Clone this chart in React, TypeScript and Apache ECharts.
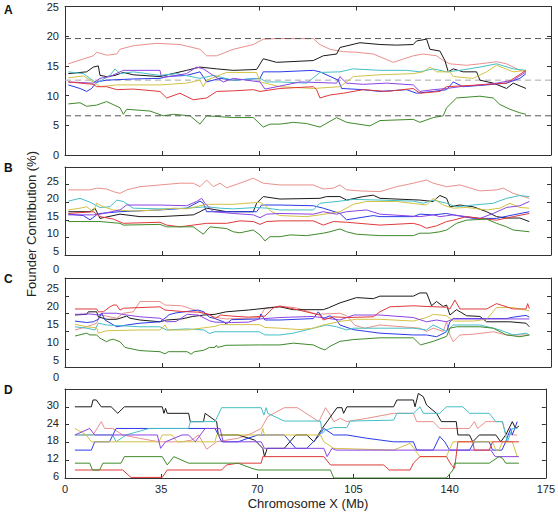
import React, { useEffect, useRef } from "react";
import * as echarts from "echarts";

// ---------- Data (x = Mb, y = founder contribution %) ----------
const LINE_NAMES = ["pink", "black", "blue", "cyan", "yellow", "purple", "red", "green"];
const LINE_COLORS = ["#e8908c", "#1a1a1a", "#2a3be8", "#44bfc6", "#d2c244", "#8c44e4", "#e0393a", "#3f8a2a"];

const X_MIN = 0;
const X_MAX = 175;
const X_STEP = 35;

// Panel A
const A_PINK = [[1.2,15.35],[10.2,16.7],[11.4,17.3],[15,16.8],[18.6,17.0],[19.8,17.8],[24.6,18.4],[33,18.8],[41.4,18.6],[48.6,17.8],[51,16.7],[54.6,16.7],[60.6,17.8],[67.8,18.6],[71.4,19.5],[76.2,19.6],[89.4,19.6],[91.8,18.6],[95.4,17.8],[100.2,17.4],[105,17.3],[111,17.0],[118.2,15.6],[125.4,16.7],[129,17.0],[133.8,16.7],[136.2,15.9],[138.6,15.35],[144.6,15.1],[149.4,15.35],[155.4,15.7],[159,15.35],[163.8,14.25],[166,14.0]];
const A_BLACK = [[1.2,13.7],[7.8,14.0],[10.2,14.8],[12,15.0],[12.6,13.4],[15,13.2],[18,13.4],[21,13.9],[24.6,13.5],[34.2,13.2],[43.8,14.25],[48.6,14.8],[54.6,14.5],[60.6,14.25],[69,14.4],[71.4,16.2],[76.2,15.6],[89.4,15.9],[93,16.7],[97.8,17.0],[99,18.1],[106.2,18.9],[113.4,18.6],[119.4,18.5],[125.4,18.6],[126.6,19.2],[130.2,19.5],[131.4,17.8],[135,17.5],[136.8,15.9],[138,14.0],[139.8,14.5],[143.4,14.0],[148.2,14.0],[149.4,12.6],[154.2,12.1],[159,11.2],[161.4,12.1],[166,11.2]];
const A_BLUE = [[1.2,11.8],[5.4,11.2],[7.8,10.7],[9.6,11.2],[11.4,12.3],[15,12.6],[24.6,12.8],[34.2,12.9],[36.6,13.2],[43.8,13.4],[48.6,14.0],[51,12.3],[55.8,12.9],[60.6,12.6],[70.2,12.9],[71.4,14.0],[77.4,14.0],[89.4,14.25],[91.8,14.0],[98.4,12.6],[99.6,11.2],[107.4,11.0],[113.4,10.7],[123,11.0],[126.6,10.4],[132.6,10.7],[137.4,11.0],[139.8,12.3],[143.4,11.5],[151.8,11.8],[159,12.1],[163.8,12.9],[166,13.7]];
const A_CYAN = [[1.2,14.0],[6.6,13.7],[11.4,12.1],[16.2,13.4],[18,14.5],[19.8,13.7],[24.6,14.0],[34.2,13.4],[40.2,13.7],[48.6,12.9],[53.4,13.4],[60.6,12.6],[70.2,12.9],[72.6,12.3],[77.4,12.3],[87,12.1],[91.8,13.9],[99,14.0],[103.8,14.5],[113.4,14.25],[123,14.25],[127.8,14.0],[132.6,14.5],[137.4,14.0],[142.2,14.25],[149.4,14.8],[155.4,15.35],[161.4,14.5],[166,14.25]];
const A_YELLOW = [[1.2,13.0],[6.6,13.3],[10.2,12.3],[12.6,11.5],[18.6,11.8],[34.2,11.8],[43.8,12.1],[48.6,12.6],[49.8,11.5],[51,12.6],[58.2,13.9],[69,13.9],[70.2,12.3],[77.4,11.5],[89.4,11.2],[99,11.5],[101.4,12.3],[103.8,13.2],[113.4,13.5],[125.4,13.7],[129,14.0],[131.4,14.8],[133.8,14.0],[138.6,14.0],[139.8,13.2],[147,12.9],[151.8,14.0],[155.4,15.1],[161.4,14.0],[166,14.25]];
const A_PURPLE = [[1.2,12.3],[10.2,12.1],[12.6,12.9],[16.2,13.2],[21,14.25],[34.2,14.25],[34.8,13.0],[43.8,13.7],[47.4,14.8],[49.8,14.5],[53.4,13.4],[57,12.3],[60.6,12.9],[70.2,12.3],[72,11.1],[77.4,11.6],[84.6,12.3],[97.8,12.1],[99,13.2],[101.4,12.1],[107.4,11.9],[115.8,12.1],[125.4,11.8],[127.8,10.7],[132.6,11.0],[137.4,11.2],[142.2,11.5],[149.4,11.8],[155.4,12.1],[161.4,12.6],[166,14.0]];
const A_RED = [[1.2,12.3],[10.2,11.9],[11.4,11.5],[15,11.5],[18.6,11.0],[24.6,11.1],[34.2,10.7],[36.6,9.6],[41.4,10.4],[46.2,9.3],[51,9.6],[54.6,10.7],[60.6,10.8],[67.8,11.0],[70.2,10.7],[77.4,11.2],[89.4,11.5],[90.6,11.0],[91.8,9.6],[95.4,10.1],[100.2,10.4],[107.4,11.0],[115.8,10.7],[125.4,11.2],[127.8,10.4],[135,10.7],[137.4,11.5],[149.4,11.8],[159,12.1],[166,14.25]];
const A_GREEN = [[1.2,8.6],[5.4,8.8],[7.8,8.2],[11.4,8.4],[15,9.0],[19.8,7.95],[21,6.85],[22.2,7.7],[30.6,7.4],[35.4,6.6],[39,6.85],[45,6.6],[48.6,5.2],[51,6.6],[60.6,6.3],[67.8,6.3],[71.4,4.7],[73.8,5.2],[77.4,5.2],[82.2,5.5],[87,5.3],[91.8,4.7],[97.8,6.3],[101.4,5.5],[109.8,4.9],[113.4,5.8],[125.4,6.0],[127.8,5.5],[132.6,6.3],[136.2,6.6],[137.4,7.95],[141,9.6],[149.4,9.9],[154.2,9.6],[156.6,8.5],[160.2,7.7],[163.8,7.1],[166,6.85]];
const A_THRESHOLDS = [19.6, 12.6, 6.6];

// Panel B
const B_PINK = [[1.2,23.5],[9,23.5],[11.4,24.0],[15,23.75],[17.4,23.0],[19.8,22.5],[22.2,23.5],[27,24.4],[34.2,24.9],[41.4,25.4],[46.2,25.4],[48.6,24.4],[51,26.3],[53.4,24.4],[55.8,25.4],[58.2,24.1],[63,25.4],[67.8,26.8],[71.4,25.4],[77.4,24.9],[89.4,24.9],[93,23.75],[96.6,24.0],[99,24.9],[101.4,23.5],[106.2,23.2],[113.4,23.0],[119.4,24.4],[125.4,25.4],[130.2,26.3],[132.6,25.4],[137.4,24.4],[142.2,24.9],[149.4,23.2],[155.4,23.5],[157.8,24.0],[161.4,22.5],[167.2,21.1]];
const B_BLACK = [[1.2,17.3],[9,17.3],[10.8,18.3],[12.6,15.4],[19.8,16.6],[27,15.9],[34.2,15.9],[41.4,16.2],[46.2,16.4],[48.6,17.3],[51,18.3],[58.2,17.3],[67.8,17.3],[69,19.7],[71.4,21.6],[77.4,20.9],[91.8,21.1],[94.2,21.6],[99,21.6],[101.4,20.6],[107.4,21.6],[111,22.0],[113.4,21.1],[127.8,20.6],[132.6,20.2],[133.8,21.1],[135,21.9],[137.4,21.1],[138.6,18.7],[142.2,19.2],[147,18.7],[151.8,17.3],[155.4,15.9],[159,15.5],[163.8,15.5],[167.2,14.5]];
const B_BLUE = [[1.2,16.6],[6.6,16.2],[9,15.0],[11.4,16.4],[12.6,16.8],[19.8,17.3],[34.2,17.8],[43.8,18.3],[48.6,20.3],[49.8,19.7],[51,17.3],[60.6,17.3],[69,17.3],[70.8,19.2],[77.4,19.2],[89.4,19.0],[93,18.3],[99,16.8],[101.4,15.0],[111,16.2],[113.4,15.9],[125.4,15.9],[127.8,16.6],[132.6,16.4],[137.4,16.8],[139.8,16.4],[147,15.4],[155.4,15.4],[161.4,16.4],[167.2,17.3]];
const B_CYAN = [[1.2,20.3],[5.4,21.1],[9,20.0],[12.6,18.5],[16.2,18.7],[18.6,20.6],[21,20.2],[24.6,18.3],[34.2,18.1],[43.8,18.3],[51,18.7],[55.8,18.3],[60.6,18.1],[69,18.5],[72.6,18.3],[77.4,17.8],[89.4,17.8],[91.8,19.7],[99,20.3],[103.8,20.8],[113.4,20.6],[125.4,20.3],[129,19.7],[132.6,20.6],[137.4,19.7],[141,18.7],[147,19.2],[154.2,19.7],[159,21.1],[163.8,21.9],[167.2,21.6]];
const B_YELLOW = [[1.2,17.8],[5.4,18.3],[7.8,18.7],[10.2,17.3],[11.4,19.7],[13.8,18.7],[17.4,17.8],[24.6,17.5],[34.2,17.8],[39,18.3],[43.8,18.1],[51,19.4],[60.6,19.4],[70.2,20.0],[72.6,18.7],[74,17.5],[77.4,16.2],[87,15.9],[91.8,16.4],[99,17.3],[103.8,19.4],[108.6,20.2],[119.4,20.2],[127.8,19.4],[130.2,19.2],[132.6,21.1],[136.2,19.2],[139.8,18.3],[144.6,18.5],[151.8,17.8],[156.6,18.3],[160.2,19.7],[163.8,18.5],[167.2,18.3]];
const B_PURPLE = [[1.2,16.4],[10.2,16.4],[12.6,16.6],[19.8,17.8],[22.2,19.2],[34.2,19.2],[43.8,19.0],[47.4,20.2],[49.2,21.1],[50.4,19.7],[53.4,17.3],[60.6,16.8],[67.8,16.4],[70.2,15.6],[72.6,16.6],[77.4,16.8],[89.4,16.6],[93,17.3],[97.8,16.6],[101.4,17.3],[108.6,17.8],[113.4,16.6],[127.8,15.9],[132.6,16.4],[135,15.9],[139.8,16.4],[149.4,15.4],[154.2,16.8],[159,18.5],[163.8,19.0],[167.2,20.2]];
const B_RED = [[1.2,16.8],[10.2,17.3],[12.6,15.9],[17.4,15.2],[21,14.0],[34.2,14.3],[36.6,13.5],[41.4,13.0],[46.2,13.5],[51,14.0],[58.2,14.0],[63,14.7],[67.8,14.5],[70.2,13.7],[72.6,14.5],[77.4,14.7],[89.4,14.7],[93,13.5],[96.6,14.5],[101.4,14.3],[113.4,13.5],[125.4,14.0],[127.8,13.5],[130.2,12.6],[133.8,13.3],[137.4,14.5],[139.8,14.9],[144.6,15.9],[149.4,15.4],[155.4,14.9],[161.4,15.9],[167.2,16.8]];
const B_GREEN = [[1.2,14.5],[12.6,14.5],[19.8,14.0],[21,13.5],[34.2,13.7],[36.6,13.0],[46.2,13.0],[48.6,11.6],[49.8,10.9],[52.2,13.0],[58.2,12.5],[60.6,11.6],[63,11.3],[67.8,12.1],[70.2,10.7],[72,9.0],[73.8,10.2],[77.4,10.2],[81,10.7],[87,10.5],[93,11.2],[95.4,11.6],[99,12.4],[101.4,11.6],[105,10.9],[113.4,10.5],[125.4,10.5],[127.8,11.2],[131.4,11.2],[135,11.6],[137.4,12.1],[141,14.0],[144.6,14.9],[151.8,15.2],[155.4,14.0],[159,13.0],[161.4,12.1],[167.2,11.6]];

// Panel C
const C_PINK = [[3.6,15.4],[7.8,16.3],[11.4,17.3],[12.6,19.6],[15,19.3],[18.6,18.7],[21,20.1],[24.6,20.5],[27,23.4],[34.2,23.4],[36,22.4],[42,22.2],[46,21.2],[50,20.2],[54,19.0],[58,18.5],[66,18.7],[70,18.9],[72,21.5],[77.4,22.1],[83.4,21.6],[90.6,19.8],[99,20.1],[101.4,19.4],[104.4,16.7],[108,15.9],[113.4,16.8],[127.8,15.9],[130.2,15.0],[132.6,15.9],[136.2,15.0],[137.4,17.7],[138.6,14.0],[139.8,12.1],[142.2,14.0],[147,14.2],[154.2,14.9],[159,14.0],[167.2,14.0]];
const C_BLACK = [[3.6,19.6],[7.8,19.8],[8.4,20.5],[11.4,20.5],[12,19.1],[15,18.4],[18.6,18.4],[22.2,19.3],[23.4,18.7],[27,18.2],[34.2,17.7],[36.6,18.2],[42,18.5],[46,19.2],[50,19.6],[54,19.8],[58,20.5],[66,21.0],[72,21.5],[77.4,21.9],[82.2,21.1],[93,21.1],[94.8,21.6],[99,23.0],[105,24.5],[111,24.2],[113.4,24.9],[125.4,24.9],[127.8,25.8],[130.2,25.8],[132,22.2],[133.8,23.4],[136.2,22.0],[137.4,22.4],[138.6,19.6],[141,21.1],[144.6,19.4],[149.4,19.2],[151.8,17.7],[160.2,17.7],[166,17.3],[167.2,16.3]];
const C_BLUE = [[3.6,17.9],[7.8,17.5],[10.2,17.7],[12,18.4],[13.2,20.1],[14.4,18.2],[18.6,16.3],[22.2,16.8],[27,17.3],[34.2,17.7],[36,18.7],[37.5,19.7],[40,20.2],[45,20.7],[48,21.0],[50,20.5],[52,19.0],[54,18.6],[57.4,17.6],[58,17.0],[60,18.3],[70,18.5],[70.5,19.9],[72,18.2],[77.4,18.2],[89.4,18.6],[91.2,20.5],[93,18.6],[95.4,19.4],[97.8,18.2],[99,16.8],[103.8,15.5],[108.6,15.0],[113.4,14.5],[125.4,14.0],[130.2,14.0],[133.8,13.5],[137.4,14.9],[138.6,17.7],[139.8,18.6],[151.8,18.6],[159,18.6],[161.4,19.0],[166,19.5],[167.2,19.0]];
const C_CYAN = [[3.6,16.3],[7.8,15.9],[10.8,15.4],[12,17.3],[15,16.8],[27,16.3],[34.2,16.3],[36.6,15.4],[44,15.7],[50,15.4],[52,14.4],[54,14.9],[70,14.9],[72,14.0],[77.4,14.0],[82.2,14.5],[89.4,15.9],[94.2,16.8],[97.8,16.3],[101.4,15.4],[103.8,15.9],[125.4,15.9],[130.2,15.4],[132.6,16.8],[135,15.9],[137.4,15.0],[139.8,16.8],[149.4,16.8],[154.2,15.9],[156.6,15.4],[161.4,14.0],[166,14.5],[167.2,14.0]];
const C_YELLOW = [[3.6,17.0],[7.8,16.3],[11.4,16.0],[12,14.5],[15,15.2],[27,15.4],[34.2,15.4],[36,16.8],[37,15.4],[44,15.4],[54,16.4],[56,16.9],[70,16.9],[72,16.1],[77.4,15.9],[84.6,15.5],[89.4,15.9],[93,16.8],[99,17.8],[105,18.4],[113.4,18.4],[125.4,17.9],[130.2,18.9],[132.6,19.8],[137.4,19.4],[139.8,17.9],[147,17.9],[151.8,18.4],[155.4,21.7],[161.4,21.7],[167.2,20.8]];
const C_PURPLE = [[3.6,19.8],[9,19.9],[12,19.6],[13.8,20.1],[18.6,20.1],[22.2,19.6],[27,19.1],[34.2,18.7],[36.6,17.7],[40,17.8],[44,19.8],[48,19.6],[52,18.0],[54,17.6],[60,17.5],[66,17.6],[70,18.5],[77.4,18.9],[89.4,19.2],[99,18.2],[104,19.6],[113.4,19.6],[125.4,18.9],[130.2,17.7],[133.8,18.2],[137.4,17.7],[139.8,18.5],[155.4,18.5],[167.2,18.5]];
const C_RED = [[3.6,21.3],[11.4,21.3],[12,20.5],[13.8,20.5],[16.2,21.9],[17.4,22.4],[18.6,22.4],[19.8,21.0],[21,21.5],[27,21.7],[34.2,21.9],[36,21.0],[42,20.6],[48,20.4],[52,19.8],[54,18.6],[56,19.6],[60,19.3],[66,19.0],[72,19.3],[75,21.6],[77.4,22.1],[83,21.2],[91.8,19.6],[93,18.2],[96.6,19.1],[101.4,18.9],[111,19.1],[113.4,20.5],[117,21.9],[125.4,22.2],[130,22.0],[137.4,21.8],[138.6,21.3],[140.4,23.8],[142.2,21.3],[151.8,21.3],[155.4,22.8],[161.4,21.3],[166,21.3],[166.6,22.8],[167.2,21.4]];
const C_GREEN = [[3.6,13.7],[7.8,14.5],[9,14.0],[11.4,14.0],[12.6,13.1],[15,12.1],[16.2,12.6],[17.4,12.8],[19.8,12.1],[21.6,10.5],[23.4,10.2],[27,9.6],[34.2,9.3],[36,8.7],[37.2,9.3],[44,9.3],[45.4,8.6],[46.6,9.3],[50,9.7],[52,10.5],[54,10.5],[54.5,11.1],[55,10.5],[58,11.1],[70,11.2],[77.4,11.2],[82.2,11.7],[89.4,11.2],[91.8,10.3],[93.6,9.8],[95.4,10.8],[99,12.2],[103.8,12.7],[113.4,13.2],[125.4,13.2],[128,11.2],[132.6,12.2],[137.4,13.6],[138.6,15.9],[141,16.3],[149.4,16.3],[154.2,15.9],[159,14.0],[163.8,13.5],[167.2,14.0]];

// Panel D
const D_PINK = [[3.6,20.5],[10.2,20.5],[13.2,25],[14.4,22.7],[17.4,22.7],[21,20.5],[27,19.4],[34.2,18.2],[42.6,18.2],[46.2,18.8],[48.6,20.5],[51.6,15.7],[55.2,18.2],[63,19.4],[67.8,21],[71.4,22.7],[73.8,26.7],[79.8,29.7],[84.6,29.7],[92.4,25],[94.8,29.7],[96.6,27.2],[97.8,25],[100.2,26.1],[102.6,25],[109.8,26.1],[119.6,27.8],[126.8,27.8],[128,25],[134,25],[136.4,22.7],[147.2,22.7],[149,25],[150.2,22.7],[153.2,25],[159.2,25],[160.4,21],[162.8,20.5],[164.6,20.5]];
const D_BLACK = [[3.6,30],[9.6,30],[10.2,32.3],[11.4,32.3],[13.2,30],[16.8,30],[19.2,27.8],[21.6,30],[35.4,30],[36,27.8],[36.6,29.5],[37.2,27.8],[45,27.8],[45.6,25],[50.4,25],[51,27.8],[55.2,25],[55.8,20.5],[63,20.5],[69,18.8],[72,16],[72.6,13.2],[73.6,16],[79.8,16],[84,20.5],[88,20.5],[90.6,18.2],[93.6,22.7],[99,29.7],[100.8,29.7],[101.4,27.8],[102.6,30],[119.6,30],[120.8,32.3],[126.8,32.3],[127.4,30],[128.6,34.5],[130.4,33.4],[131.6,30.6],[135.2,27.8],[137,25],[142.4,25],[143,20.5],[147.2,20.5],[148.4,18.2],[150.8,20.5],[156.8,20.5],[158.6,18.2],[160.4,20.5],[162.8,25],[164,22.7],[165.2,23.5]];
const D_BLUE = [[3.6,15.4],[9.6,15.4],[10.8,18.2],[16.2,18.2],[18.6,22.7],[54.6,22.7],[55.8,20.5],[57,18.2],[63,18.2],[66.6,19.4],[70.2,20.5],[79.8,20.5],[84,16],[88,16],[91.8,19.5],[94.2,22.7],[97.8,20.5],[102.6,20.5],[109.8,19.4],[119.6,18.2],[126.8,18.2],[128,15.4],[134,15.4],[136.4,20],[138.2,18.2],[140,15.4],[147.2,15.4],[149,18.2],[154.4,18.2],[155.6,15.4],[159,15.4],[160.4,18.2],[162.2,22.7],[162.8,20.5],[164.6,25]];
const D_CYAN = [[3.6,20.5],[17.4,20.5],[18.6,18.2],[22.2,20.5],[30.6,22.7],[45,22.7],[45.6,25],[54.6,25],[57,29.7],[71.4,29.7],[72.4,27.2],[73.2,29.7],[73.8,27.8],[79.8,25.2],[93,25.2],[93.6,21],[94.8,22.2],[97.8,23],[102.6,23],[103.8,25.2],[119.6,25.5],[120.8,27.8],[126.8,27.8],[129.2,30],[130.4,27.8],[136.4,27.8],[138.8,30],[144.8,30],[147.2,27.8],[154.4,27.8],[156.8,25],[159.2,25],[161,18.2],[162.8,22.7],[164.6,22.7]];
const D_YELLOW = [[3.6,22.7],[7.8,20.5],[9.6,18.2],[34.2,18.2],[35.4,20.5],[39,20.5],[40.8,18.2],[54.6,18.2],[55.2,20.5],[71.4,20.5],[72,22.7],[72.6,20.5],[93,20.5],[94.2,18.2],[97.8,16],[119.6,15.4],[125.6,17.7],[127.4,15.4],[129.2,13.2],[138.8,13.2],[141.2,18.2],[155.6,18.2],[156.8,15.4],[158,15.4],[159.2,18.2],[162.8,18.2],[164.6,13.2]];
const D_PURPLE = [[3.6,20.5],[9,22.7],[10.8,20.5],[33.6,20.5],[34.8,16],[36.6,18.2],[42.6,20.5],[45,20.5],[47.4,18.2],[51,22.7],[56.4,22.7],[57.6,18.2],[71.4,18.2],[72.6,16],[94.2,16],[95.4,13.2],[97.2,16],[98.6,15.4],[155,15.4],[156.6,13.2],[165.2,13.2]];
const D_RED = [[3.6,8.7],[21,8.7],[24,6.2],[35.4,6.2],[37.2,8.7],[57,8.7],[58.8,10.4],[63,11],[71.4,11],[72,13.2],[94.2,13.2],[96.6,10.4],[116,10.4],[118,8.7],[125.6,8.7],[126.8,11],[129.2,13.2],[138.8,13.2],[140.6,10.4],[141.8,9.3],[143,18.2],[148.4,18.2],[149,15.4],[154.4,15.4],[155.6,18.2],[165.2,18.2]];
const D_GREEN = [[3.6,11],[9,11],[10,8.7],[12.6,8.7],[13.8,11],[20.4,11],[21.6,13.2],[35.4,13.2],[37.2,10.4],[39.6,13.2],[45,11],[63,11],[67.8,9.3],[70.2,8.7],[96.6,8.7],[97.8,6],[138.8,6],[141.2,8.7],[141.8,11],[154.4,11],[158,13.2],[159.2,12.7],[160.4,11],[165.2,11]];

const PANEL_LETTERS = ["A", "B", "C", "D"];
const PANEL_SERIES = [
  [A_PINK, A_BLACK, A_BLUE, A_CYAN, A_YELLOW, A_PURPLE, A_RED, A_GREEN],
  [B_PINK, B_BLACK, B_BLUE, B_CYAN, B_YELLOW, B_PURPLE, B_RED, B_GREEN],
  [C_PINK, C_BLACK, C_BLUE, C_CYAN, C_YELLOW, C_PURPLE, C_RED, C_GREEN],
  [D_PINK, D_BLACK, D_BLUE, D_CYAN, D_YELLOW, D_PURPLE, D_RED, D_GREEN],
];
const Y_MIN = [0, 5, 5, 6];
const Y_MAX = [25, 30, 30, 36];
const Y_STEP = [5, 5, 5, 6];
const EXTRA_ZERO_LABEL = ["", "0", "0", ""];

const X_TITLE = "Chromosome X (Mb)";
const Y_TITLE = "Founder Contribution (%)";

// ---------- Layout ----------
const W = 558;
const H = 514;
const GRID_LEFT = 65;
const GRID_RIGHT = 7;
const GRID_TOP = [3, 167, 278, 389];
const GRID_H = [152, 88, 89, 89];
const LABEL_SHIFT = [0, 4, 7.5, 2]; // px the y tick labels sit above their ticks
const FONT = "'Liberation Sans', Arial, Helvetica, sans-serif";
const AXIS_COLOR = "#333";

export default function App() {
  const ref = useRef<HTMLDivElement | null>(null);

  useEffect(() => {
    if (!ref.current) return;
    const chart = echarts.init(ref.current, null, { renderer: "svg" });

    const grid = GRID_TOP.map((t, i) => ({
      left: GRID_LEFT,
      right: GRID_RIGHT,
      top: t,
      height: GRID_H[i],
      containLabel: false,
    }));

    const xAxis: any[] = [];
    const yAxis: any[] = [];
    for (let i = 0; i < 4; i++) {
      const baseX = {
        type: "value",
        gridIndex: i,
        min: X_MIN,
        max: X_MAX,
        interval: X_STEP,
        splitLine: { show: false },
        axisLine: { show: true, onZero: false, lineStyle: { color: AXIS_COLOR, width: 1 } },
        axisTick: { show: true, inside: true, length: 4, lineStyle: { color: AXIS_COLOR } },
      };
      xAxis.push({
        ...baseX,
        position: "bottom",
        axisLabel: {
          show: i === 3,
          margin: 5,
          fontSize: 11,
          color: "#222",
          fontFamily: FONT,
        },
      });
      xAxis.push({ ...baseX, position: "top", axisLabel: { show: false } });

      const baseY = {
        type: "value",
        gridIndex: i,
        min: Y_MIN[i],
        max: Y_MAX[i],
        interval: Y_STEP[i],
        splitLine: { show: false },
        axisLine: { show: true, onZero: false, lineStyle: { color: AXIS_COLOR, width: 1 } },
        axisTick: { show: true, inside: true, length: 4, lineStyle: { color: AXIS_COLOR } },
      };
      const shift = LABEL_SHIFT[i];
      yAxis.push({
        ...baseY,
        position: "left",
        axisLabel: {
          show: true,
          margin: 6,
          fontSize: 11,
          color: "#222",
          fontFamily: FONT,
          showMinLabel: true,
          showMaxLabel: i === 0,
          verticalAlign: shift > 0 ? "bottom" : "middle",
          lineHeight: shift > 0 ? 2 * shift : 13,
        },
      });
      yAxis.push({ ...baseY, position: "right", axisLabel: { show: false } });
    }

    const series: any[] = [];
    PANEL_SERIES.forEach((lines, i) => {
      lines.forEach((data, k) => {
        series.push({
          type: "line",
          name: `${PANEL_LETTERS[i]}-${LINE_NAMES[k]}`,
          xAxisIndex: 2 * i,
          yAxisIndex: 2 * i,
          data,
          showSymbol: false,
          symbol: "none",
          silent: true,
          lineStyle: { color: LINE_COLORS[k], width: 1 },
          z: 3,
        });
      });
    });
    A_THRESHOLDS.forEach((v, k) => {
      series.push({
        type: "line",
        name: `threshold-${k}`,
        xAxisIndex: 0,
        yAxisIndex: 0,
        data: [[X_MIN, v], [X_MAX, v]],
        showSymbol: false,
        symbol: "none",
        silent: true,
        lineStyle: { color: k === 1 ? "#a8a8a8" : "#555", width: 1, type: [6, 4] },
        z: k === 1 ? 2 : 4,
      });
    });

    const graphic: any[] = [];
    PANEL_LETTERS.forEach((L, i) => {
      graphic.push({
        type: "text",
        x: 4,
        y: GRID_TOP[i] + (i === 0 ? 7 : 1),
        style: {
          text: L,
          font: `bold 12px ${FONT}`,
          fill: "#111",
          align: "left",
          verticalAlign: "middle",
        },
      });
      if (EXTRA_ZERO_LABEL[i]) {
        const zeroY =
          GRID_TOP[i] + GRID_H[i] + (GRID_H[i] / (Y_MAX[i] - Y_MIN[i])) * Y_MIN[i] - LABEL_SHIFT[i];
        graphic.push({
          type: "text",
          x: GRID_LEFT - 6,
          y: zeroY,
          style: {
            text: EXTRA_ZERO_LABEL[i],
            font: `11px ${FONT}`,
            fill: "#222",
            align: "right",
            verticalAlign: "middle",
          },
        });
      }
    });
    graphic.push({
      type: "text",
      x: 31,
      y: 224,
      rotation: Math.PI / 2,
      style: {
        text: Y_TITLE,
        font: `13px ${FONT}`,
        fill: "#222",
        align: "center",
        verticalAlign: "middle",
      },
    });
    graphic.push({
      type: "text",
      x: GRID_LEFT + (W - GRID_LEFT - GRID_RIGHT) / 2,
      y: 503,
      style: {
        text: X_TITLE,
        font: `13px ${FONT}`,
        fill: "#222",
        align: "center",
        verticalAlign: "middle",
      },
    });

    chart.setOption({
      animation: false,
      backgroundColor: "#ffffff",
      grid,
      xAxis,
      yAxis,
      series,
      graphic,
    });

    return () => {
      chart.dispose();
    };
  }, []);

  return (
    <div
      ref={ref}
      style={{ position: "fixed", left: 0, top: 0, width: W, height: H, background: "#fff" }}
    />
  );
}
